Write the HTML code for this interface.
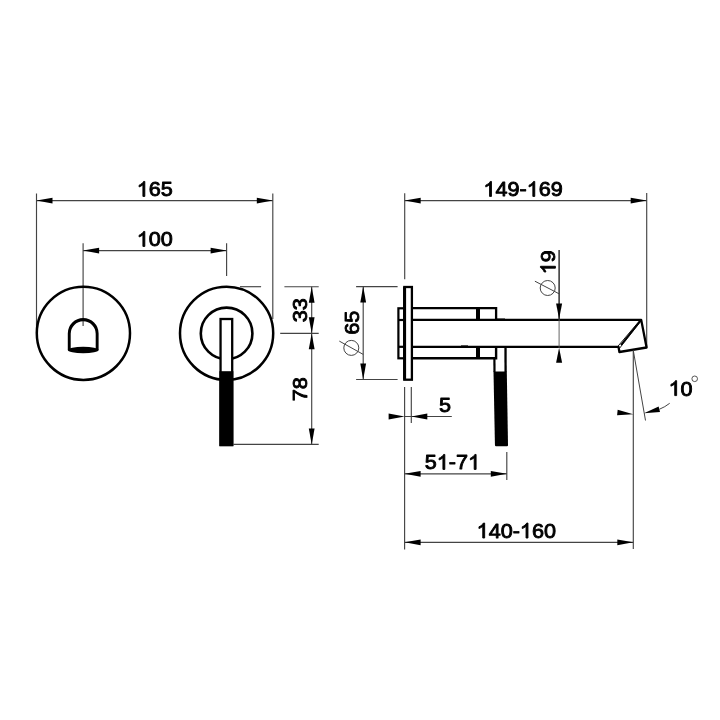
<!DOCTYPE html>
<html><head><meta charset="utf-8"><title>Dimension drawing</title>
<style>
html,body{margin:0;padding:0;background:#fff;}
body{width:720px;height:720px;overflow:hidden;}
svg{display:block;filter:grayscale(1);}
text{font-family:"Liberation Sans",sans-serif;fill:#000;stroke:#000;stroke-width:0.9px;stroke-linejoin:round;}
</style></head><body>
<svg width="720" height="720" viewBox="0 0 720 720">
<rect width="720" height="720" fill="#fff"/>
<line x1="36.5" y1="193.5" x2="36.5" y2="333" stroke="#444" stroke-width="1.15" />
<line x1="272.8" y1="193.5" x2="272.8" y2="319" stroke="#444" stroke-width="1.15" />
<line x1="36.5" y1="200.6" x2="272.8" y2="200.6" stroke="#444" stroke-width="1.15" />
<polygon points="36.50,200.60 52.50,197.70 52.50,203.50" fill="#000"/>
<polygon points="272.80,200.60 256.80,203.50 256.80,197.70" fill="#000"/>
<g transform="translate(154.8 196.4) scale(1.04 1)"><path d="M763 0H583V1147Q518 1085 412.5 1023T223 930V1104Q374 1175 487 1276T647 1472H763V0Z" transform="translate(-17.35 0) scale(0.010156 -0.010156)" fill="#000" stroke="#000" stroke-width="88.6" stroke-linejoin="round"/><text x="-5.78" y="0" font-size="20.8">6</text><text x="5.78" y="0" font-size="20.8">5</text></g>
<line x1="83.1" y1="243.3" x2="83.1" y2="326" stroke="#444" stroke-width="1.15" />
<line x1="226.6" y1="243.3" x2="226.6" y2="276" stroke="#444" stroke-width="1.15" />
<line x1="83.1" y1="250.6" x2="226.6" y2="250.6" stroke="#444" stroke-width="1.15" />
<polygon points="83.10,250.60 99.10,247.70 99.10,253.50" fill="#000"/>
<polygon points="226.60,250.60 210.60,253.50 210.60,247.70" fill="#000"/>
<g transform="translate(154.8 246.4) scale(1.04 1)"><path d="M763 0H583V1147Q518 1085 412.5 1023T223 930V1104Q374 1175 487 1276T647 1472H763V0Z" transform="translate(-17.35 0) scale(0.010156 -0.010156)" fill="#000" stroke="#000" stroke-width="88.6" stroke-linejoin="round"/><text x="-5.78" y="0" font-size="20.8">0</text><text x="5.78" y="0" font-size="20.8">0</text></g>
<circle cx="83.4" cy="333.3" r="46.6" fill="none" stroke="#000" stroke-width="2.5"/>
<path fill-rule="evenodd" fill="#000" d="M67.8,350 V333.4 A15.4,15.4 0 0 1 98.6,333.4 V350 Z M70.7,350 V333.8 A12.5,12.5 0 0 1 95.7,333.8 V350 Z"/>
<ellipse cx="83.2" cy="350" rx="15.4" ry="3.3" fill="#000"/>
<circle cx="226.6" cy="333.3" r="46.6" fill="none" stroke="#000" stroke-width="2.5"/>
<circle cx="226.6" cy="333.4" r="25.8" fill="none" stroke="#000" stroke-width="2.6"/>
<rect x="220.55" y="319" width="11.65" height="126" fill="#fff" stroke="#000" stroke-width="2.3"/>
<rect x="219.4" y="371.2" width="13.95" height="75" fill="#000"/>
<line x1="240" y1="286.7" x2="261.1" y2="286.7" stroke="#444" stroke-width="1.15" />
<line x1="284.4" y1="286.7" x2="318.7" y2="286.7" stroke="#444" stroke-width="1.15" />
<line x1="280.2" y1="333.3" x2="318.7" y2="333.3" stroke="#444" stroke-width="1.15" />
<line x1="233" y1="444.4" x2="318.7" y2="444.4" stroke="#444" stroke-width="1.15" />
<line x1="311.7" y1="286.7" x2="311.7" y2="444.4" stroke="#444" stroke-width="1.15" />
<polygon points="311.70,286.70 314.60,302.70 308.80,302.70" fill="#000"/>
<polygon points="311.70,333.30 308.80,317.30 314.60,317.30" fill="#000"/>
<polygon points="311.70,333.30 314.60,349.30 308.80,349.30" fill="#000"/>
<polygon points="311.70,444.40 308.80,428.40 314.60,428.40" fill="#000"/>
<g transform="translate(307.4 310.2) rotate(-90) scale(1.04 1)"><text x="-11.57" y="0" font-size="20.8">3</text><text x="0.00" y="0" font-size="20.8">3</text></g>
<g transform="translate(307.4 389.3) rotate(-90) scale(1.04 1)"><text x="-11.57" y="0" font-size="20.8">7</text><text x="0.00" y="0" font-size="20.8">8</text></g>
<line x1="404.7" y1="193.3" x2="404.7" y2="279.3" stroke="#444" stroke-width="1.15" />
<line x1="646.7" y1="193" x2="646.7" y2="347" stroke="#444" stroke-width="1.15" />
<line x1="404.7" y1="200.6" x2="646.7" y2="200.6" stroke="#444" stroke-width="1.15" />
<polygon points="404.70,200.60 420.70,197.70 420.70,203.50" fill="#000"/>
<polygon points="646.70,200.60 630.70,203.50 630.70,197.70" fill="#000"/>
<g transform="translate(523.1 196.4) scale(1.04 1)"><path d="M763 0H583V1147Q518 1085 412.5 1023T223 930V1104Q374 1175 487 1276T647 1472H763V0Z" transform="translate(-38.17 0) scale(0.010156 -0.010156)" fill="#000" stroke="#000" stroke-width="88.6" stroke-linejoin="round"/><text x="-26.60" y="0" font-size="20.8">4</text><text x="-15.03" y="0" font-size="20.8">9</text><text x="-3.46" y="0" font-size="20.8">-</text><path d="M763 0H583V1147Q518 1085 412.5 1023T223 930V1104Q374 1175 487 1276T647 1472H763V0Z" transform="translate(3.46 0) scale(0.010156 -0.010156)" fill="#000" stroke="#000" stroke-width="88.6" stroke-linejoin="round"/><text x="15.03" y="0" font-size="20.8">6</text><text x="26.60" y="0" font-size="20.8">9</text></g>
<line x1="356.1" y1="286.6" x2="397.6" y2="286.6" stroke="#444" stroke-width="1.15" />
<line x1="356.1" y1="379.5" x2="397.6" y2="379.5" stroke="#444" stroke-width="1.15" />
<line x1="363.2" y1="286.6" x2="363.2" y2="379.5" stroke="#444" stroke-width="1.15" />
<polygon points="363.20,286.60 366.10,302.60 360.30,302.60" fill="#000"/>
<polygon points="363.20,379.50 360.30,363.50 366.10,363.50" fill="#000"/>
<g transform="translate(359 322.7) rotate(-90) scale(1.04 1)"><text x="-11.57" y="0" font-size="20.8">6</text><text x="0.00" y="0" font-size="20.8">5</text></g>
<circle cx="351.3" cy="347.9" r="7.5" fill="none" stroke="#444" stroke-width="1"/><line x1="339.3" y1="341.1" x2="363.2" y2="354.4" stroke="#444" stroke-width="1" />
<rect x="398.4" y="308.3" width="6" height="50" fill="#fff" stroke="#000" stroke-width="2.2"/>
<line x1="398.4" y1="320" x2="404" y2="320" stroke="#000" stroke-width="2.2" />
<line x1="398.4" y1="346.8" x2="404" y2="346.8" stroke="#000" stroke-width="2.2" />
<rect x="404.3" y="287" width="7.6" height="92.7" fill="#fff" stroke="#000" stroke-width="2.3"/>
<line x1="404.6" y1="287" x2="404.6" y2="379.7" stroke="#000" stroke-width="3" />
<path d="M412,308.2 H496.1 V319.9" fill="none" stroke="#000" stroke-width="2.3"/>
<path d="M412,358.2 H496.1 V346.8" fill="none" stroke="#000" stroke-width="2.4"/>
<line x1="478" y1="308.2" x2="478" y2="319.9" stroke="#000" stroke-width="4" />
<line x1="478" y1="346.8" x2="478" y2="358.2" stroke="#000" stroke-width="4" />
<line x1="496" y1="319.3" x2="505" y2="319.3" stroke="#000" stroke-width="1.6" />
<line x1="461" y1="346.1" x2="468" y2="346.1" stroke="#000" stroke-width="1.4" />
<path d="M412,319.9 H641.2 L646.6,347.5 L619.4,352 L618.5,346.8 H412" fill="none" stroke="#000" stroke-width="2.3" stroke-linejoin="round"/>
<line x1="641" y1="320" x2="621" y2="345" stroke="#000" stroke-width="2" />
<line x1="640.2" y1="320" x2="617.8" y2="346.4" stroke="#000" stroke-width="0.9" />
<line x1="641" y1="321" x2="619.6" y2="348.2" stroke="#000" stroke-width="0.9" />
<line x1="494.4" y1="358" x2="494.5" y2="372" stroke="#000" stroke-width="2.2" />
<line x1="505.5" y1="346.8" x2="505.6" y2="372" stroke="#000" stroke-width="2.3" />
<path d="M493.5,371.5 H506.8 L508,445.2 Q508,446.3 507,446.3 H496 Q495,446.3 494.95,445.2 Z" fill="#000"/>
<line x1="559.1" y1="250" x2="559.1" y2="319" stroke="#111" stroke-width="1.3" />
<line x1="559.1" y1="319" x2="559.1" y2="348" stroke="#555" stroke-width="0.9" />
<polygon points="559.10,318.90 556.10,303.60 562.10,303.60" fill="#000"/>
<polygon points="559.10,347.80 562.10,362.80 556.10,362.80" fill="#000"/>
<g transform="translate(555.4 262.3) rotate(-90) scale(1.04 1)"><path d="M763 0H583V1147Q518 1085 412.5 1023T223 930V1104Q374 1175 487 1276T647 1472H763V0Z" transform="translate(-11.57 0) scale(0.010156 -0.010156)" fill="#000" stroke="#000" stroke-width="88.6" stroke-linejoin="round"/><text x="0.00" y="0" font-size="20.8">9</text></g>
<circle cx="547.7" cy="288" r="7.5" fill="none" stroke="#444" stroke-width="1"/><line x1="534.9" y1="281.2" x2="559.1" y2="293.8" stroke="#444" stroke-width="1" />
<line x1="404.6" y1="387" x2="404.6" y2="549.5" stroke="#444" stroke-width="1.15" />
<line x1="411.3" y1="387" x2="411.3" y2="423" stroke="#444" stroke-width="1.15" />
<line x1="404.6" y1="416.5" x2="451.8" y2="416.5" stroke="#444" stroke-width="1.15" />
<polygon points="404.60,416.50 388.60,419.40 388.60,413.60" fill="#000"/>
<polygon points="411.30,416.50 427.30,413.60 427.30,419.40" fill="#000"/>
<g transform="translate(445.0 412.4) scale(1.04 1)"><text x="-5.78" y="0" font-size="20.8">5</text></g>
<line x1="506.8" y1="452" x2="506.8" y2="480" stroke="#444" stroke-width="1.15" />
<line x1="404.6" y1="473.8" x2="506.8" y2="473.8" stroke="#444" stroke-width="1.15" />
<polygon points="404.60,473.80 420.60,470.90 420.60,476.70" fill="#000"/>
<polygon points="506.80,473.80 490.80,476.70 490.80,470.90" fill="#000"/>
<g transform="translate(452.4 469.4) scale(1.04 1)"><text x="-26.60" y="0" font-size="20.8">5</text><path d="M763 0H583V1147Q518 1085 412.5 1023T223 930V1104Q374 1175 487 1276T647 1472H763V0Z" transform="translate(-15.03 0) scale(0.010156 -0.010156)" fill="#000" stroke="#000" stroke-width="88.6" stroke-linejoin="round"/><text x="-3.46" y="0" font-size="20.8">-</text><text x="3.46" y="0" font-size="20.8">7</text><path d="M763 0H583V1147Q518 1085 412.5 1023T223 930V1104Q374 1175 487 1276T647 1472H763V0Z" transform="translate(15.03 0) scale(0.010156 -0.010156)" fill="#000" stroke="#000" stroke-width="88.6" stroke-linejoin="round"/></g>
<line x1="633.3" y1="350.5" x2="633.3" y2="549" stroke="#444" stroke-width="1.15" />
<line x1="404.6" y1="542.3" x2="633.3" y2="542.3" stroke="#444" stroke-width="1.15" />
<polygon points="404.60,542.30 420.60,539.40 420.60,545.20" fill="#000"/>
<polygon points="633.30,542.30 617.30,545.20 617.30,539.40" fill="#000"/>
<g transform="translate(516.3 538.0) scale(1.04 1)"><path d="M763 0H583V1147Q518 1085 412.5 1023T223 930V1104Q374 1175 487 1276T647 1472H763V0Z" transform="translate(-38.17 0) scale(0.010156 -0.010156)" fill="#000" stroke="#000" stroke-width="88.6" stroke-linejoin="round"/><text x="-26.60" y="0" font-size="20.8">4</text><text x="-15.03" y="0" font-size="20.8">0</text><text x="-3.46" y="0" font-size="20.8">-</text><path d="M763 0H583V1147Q518 1085 412.5 1023T223 930V1104Q374 1175 487 1276T647 1472H763V0Z" transform="translate(3.46 0) scale(0.010156 -0.010156)" fill="#000" stroke="#000" stroke-width="88.6" stroke-linejoin="round"/><text x="15.03" y="0" font-size="20.8">6</text><text x="26.60" y="0" font-size="20.8">0</text></g>
<line x1="633.3" y1="350.5" x2="645.5" y2="420.5" stroke="#444" stroke-width="1" />
<polygon points="633.30,414.20 617.09,415.30 617.68,409.74" fill="#000"/>
<polygon points="644.00,413.20 658.62,406.58 660.00,412.01" fill="#000"/>
<path d="M659.3,409.3 Q665,407 669.7,403.3" fill="none" stroke="#444" stroke-width="1"/>
<g transform="translate(680.6 395.6) scale(1.04 1)"><path d="M763 0H583V1147Q518 1085 412.5 1023T223 930V1104Q374 1175 487 1276T647 1472H763V0Z" transform="translate(-11.57 0) scale(0.010156 -0.010156)" fill="#000" stroke="#000" stroke-width="88.6" stroke-linejoin="round"/><text x="0.00" y="0" font-size="20.8">0</text></g>
<circle cx="694.7" cy="378.8" r="2.8" fill="none" stroke="#444" stroke-width="0.9"/>
</svg>
</body></html>
